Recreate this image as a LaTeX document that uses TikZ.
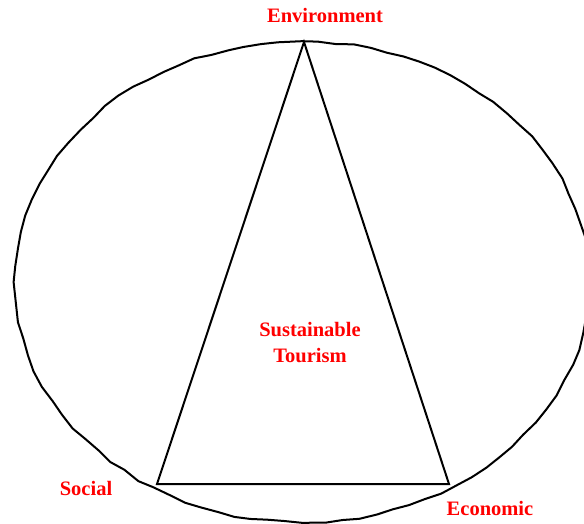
\documentclass[tikz,border=0pt]{standalone}
\usepackage{fontspec}
\setmainfont{Liberation Serif}
\usetikzlibrary{positioning}
\usetikzlibrary{decorations.pathmorphing}

\begin{document}
\pgfmathsetseed{7}
\begin{tikzpicture}[x=1pt,y=-1pt,
    label/.style={
% The text:
text=red, font=\fontsize{20.5}{26}\selectfont\bfseries,
% The spacing:
inner sep=0pt,
},
    wobbly/.style={
% The border:
line width=2pt, draw,
decorate, decoration={random steps, segment length=17pt, amplitude=1.2pt},
},
    side/.style={
% The border:
line width=2pt, draw, line join=miter,
},
]
  \useasboundingbox (0,0) rectangle (584,523);
  \draw[wobbly] (302,282) ellipse [x radius=287, y radius=240];
  \coordinate (top)   at (304, 42);
  \coordinate (left)  at (157, 484);
  \coordinate (right) at (449, 484);
  \draw[side] (top) -- (left) -- (right) -- cycle;
  \node[label,anchor=base] (env) at (325, 22) {Environment};
  \node[label,anchor=base] (soc) at (86, 495) {Social};
  \node[label,anchor=base] (eco) at (490, 515) {Economic};
  \node[label,align=center,anchor=north] (st) at (310, 322) {Sustainable\\Tourism};

\end{tikzpicture}
\end{document}
